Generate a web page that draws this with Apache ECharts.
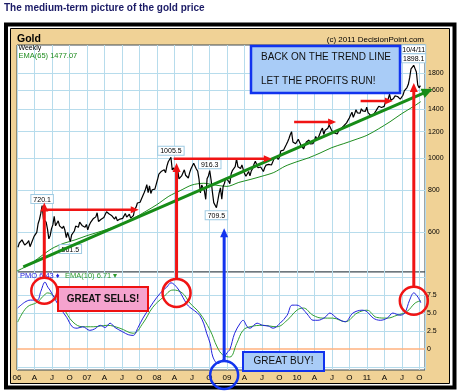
<!DOCTYPE html>
<html><head><meta charset="utf-8">
<script src="https://cdn.jsdelivr.net/npm/echarts@6/dist/echarts.min.js"></script>
<style>html,body{margin:0;padding:0;background:#fff}#c{width:460px;height:392px}</style>
</head><body><div id="c"></div>
<script>
// ---------- DATA (weekly closes) ----------
const firstWeek = [2006, 0, 6];
const gold2006 = [540,556,561,568, 569,548,553,557, 565,542,555,560,582, 590,598,635,654, 682,720.1,655,653, 642,612,572,585,614, 630,668,626,634, 648,626,620,615, 625,607,577,598,599, 561.5,588,593,604, 625,628,620,642, 647,626,621,620,632];
const gold2007 = [609,627,640,648, 657,666,666,685, 645,651,655,663,663, 677,690,682,679, 685,671,662,656, 667,649,656,656,650, 659,667,682,665, 673,678,660,668,672, 702,712,733,743, 737,754,763,787, 806,832,787,825,783, 803,795,807,834];
const gold2008 = [862,895,883,913, 911,922,904,946,975, 972,1005.5,921,934, 913,925,927,866, 856,884,880,922,888, 883,871,904,929, 932,964,957,927, 914,864,786,830,829, 797,752,866,884, 916.3,860,790,735,725, 709.5,745,785,814, 752,822,840,870];
const gold2009 = [878,853,838,897,919, 912,942,995,942, 940,930,954,924, 898,882,870,911, 884,915,930,958,978, 957,935,933,940, 931,911,937,952,954, 957,946,953,955, 996,1006,1010,990, 1004,1051,1051,1056,1046, 1096,1118,1143,1175, 1200,1118,1110,1104];
const gold2010 = [1096,1138,1130,1092,1083, 1066,1092,1117,1118, 1132,1102,1106,1105, 1126,1161,1136,1153,1180, 1209,1230,1177,1212, 1218,1228,1256,1256, 1208,1210,1189,1188,1181, 1204,1216,1228,1237, 1250,1244,1275,1297, 1318,1346,1372,1325,1357, 1397,1367,1352,1363, 1406,1385,1378,1380,1421];
const gold2011 = [1369,1360,1342,1340, 1349,1361,1388,1409, 1430,1421,1418,1431, 1429,1474,1486,1504,1556, 1491,1493,1510,1536, 1542,1530,1539,1502, 1486,1543,1591,1601,1628, 1664,1743,1852,1828, 1898.1,1855,1813,1657,1624, 1650];

const emaDates  = [2006.00,2006.17,2006.33,2006.50,2006.67,2006.83,2007.00,2007.17,2007.33,2007.50,2007.67,2007.83,2008.00,2008.17,2008.33,2008.50,2008.67,2008.83,2009.00,2009.17,2009.33,2009.50,2009.67,2009.83,2010.00,2010.17,2010.33,2010.50,2010.67,2010.83,2011.00,2011.17,2011.33,2011.50,2011.67,2011.77];
const emaValues = [458,478,505,535,555,568,585,600,615,635,660,690,725,768,798,830,840,830,822,845,862,882,905,945,975,1002,1035,1075,1105,1135,1170,1225,1285,1360,1430,1477.07];

const pmoDates  = [2006.01,2006.11,2006.19,2006.29,2006.34,2006.40,2006.44,2006.47,2006.54,2006.61,2006.71,2006.79,2006.86,2006.94,2007.04,2007.11,2007.19,2007.26,2007.33,2007.40,2007.51,2007.59,2007.66,2007.73,2007.80,2007.90,2008.00,2008.09,2008.14,2008.20,2008.29,2008.37,2008.43,2008.47,2008.54,2008.61,2008.67,2008.71,2008.76,2008.80,2008.87,2008.94,2009.00,2009.04,2009.11,2009.19,2009.23,2009.29,2009.33,2009.43,2009.51,2009.59,2009.66,2009.76,2009.86,2009.93,2010.00,2010.07,2010.16,2010.23,2010.30,2010.40,2010.47,2010.57,2010.69,2010.80,2010.93,2011.00,2011.09,2011.19,2011.29,2011.37,2011.47,2011.54,2011.61,2011.67,2011.73,2011.77];
const pmoValues = [5.7,6.5,6.8,6.8,8.0,9.3,8.6,8.2,7.0,5.8,4.4,3.1,2.9,3.1,2.6,2.8,3.3,3.0,3.6,3.0,2.4,2.0,1.9,3.0,4.3,5.8,7.2,8.2,8.6,9.2,8.5,7.2,6.2,5.8,5.3,4.7,3.5,2.2,0.8,-1.1,-2.0,-1.5,-0.5,-0.1,2.2,3.6,4.0,3.1,2.9,3.6,3.3,3.2,2.9,3.6,4.7,6.1,6.1,5.7,4.7,4.0,4.0,4.4,5.0,4.3,3.8,5.0,5.4,5.2,4.3,4.0,4.3,5.0,4.7,5.0,6.8,7.8,7.2,6.43];

const sigDates  = [2006.01,2006.14,2006.29,2006.37,2006.44,2006.54,2006.66,2006.80,2006.94,2007.09,2007.29,2007.47,2007.66,2007.80,2007.94,2008.09,2008.23,2008.36,2008.47,2008.61,2008.76,2008.86,2008.94,2009.04,2009.14,2009.23,2009.33,2009.51,2009.71,2009.86,2010.00,2010.09,2010.23,2010.37,2010.51,2010.69,2010.86,2011.00,2011.14,2011.29,2011.43,2011.57,2011.69,2011.77];
const sigValues = [3.75,5.8,6.5,7.3,7.8,7.2,5.7,3.75,3.1,3.1,3.3,2.9,2.2,3.6,5.8,7.2,8.2,7.8,6.4,5.0,2.6,0.3,-0.8,-1.1,0.8,2.6,3.1,3.3,3.1,4.0,5.4,5.7,4.7,4.3,4.3,3.8,5.0,5.4,4.4,4.3,4.7,5.2,6.4,6.71];

const priceTicks = [600,800,1000,1200,1400,1600,1800];
const pmoTicks = [0,2.5,5,7.5];
const pmoGridLines = [-2.5,2.5,5,7.5,10];
const quarterLabels = ['A','J','O'];
const trendX = [2006.09, 2011.94];
const trendY = [471, 1611];
const peakLabels = [720.1, 1005.5, 916.3];
const lowLabels = [561.5, 709.5];
const lastLabel = ['10/4/11', 1898.1];

// ---------- BUILD ----------
const FF = "'Liberation Sans', Arial, sans-serif";
const prices = [].concat(gold2006, gold2007, gold2008, gold2009, gold2010, gold2011);
function fracYear(ms){ const d=new Date(ms); const y=d.getUTCFullYear(); const s=Date.UTC(y,0,1), e=Date.UTC(y+1,0,1); return y+(ms-s)/(e-s); }
const t0 = Date.UTC(firstWeek[0], firstWeek[1], firstWeek[2]);
const dates = prices.map((p,i)=>fracYear(t0 + i*7*864e5));
const pt = v => { const i = prices.indexOf(v); return [dates[i], prices[i]]; };

const XMIN = 2006, XMAX = 2011.83;
const splitCol = '#B7DCEC';
const mpLabel = {show:true, color:'#000', fontSize:7, fontFamily:FF, backgroundColor:'#fff', borderColor:'#9FCBE3', borderWidth:1, padding:[1,2,0,2]};

const chart = echarts.init(document.getElementById('c'), null, {renderer:'canvas'});
const option = {
  animation:false,
  backgroundColor:'#fff',
  grid:[
    {left:17, right:35, top:45, height:227, show:true, backgroundColor:'#fff', borderColor:'#3E4A52', borderWidth:1},
    {left:17, right:35, top:272, height:98, show:true, backgroundColor:'#fff', borderColor:'#3E4A52', borderWidth:1}
  ],
  xAxis:[
    {type:'value', gridIndex:0, min:XMIN, max:XMAX, interval:0.25, axisLine:{show:false}, axisTick:{show:false}, axisLabel:{show:false}, splitLine:{show:true, lineStyle:{color:splitCol, width:1}}},
    {type:'value', gridIndex:1, min:XMIN, max:XMAX, interval:0.25, axisLine:{show:false}, axisTick:{show:false},
     axisLabel:{show:true, margin:4, color:'#000', fontSize:8, fontFamily:FF, showMaxLabel:false,
       formatter:function(v){ const q=Math.round((v-2006)*4); const y=2006+Math.floor(q/4); const m=((q%4)+4)%4; return m===0 ? String(y).slice(2) : quarterLabels[m-1]; }},
     splitLine:{show:true, lineStyle:{color:splitCol, width:1}}}
  ],
  yAxis:[
    {type:'log', gridIndex:0, min:455, max:2184, show:false, splitLine:{show:false}},
    {type:'value', gridIndex:1, min:-2.9, max:10.7, show:false, splitLine:{show:false}}
  ],
  series:[
    {name:'EMA65', type:'line', xAxisIndex:0, yAxisIndex:0, data:emaDates.map((d,i)=>[d,emaValues[i]]), showSymbol:false, smooth:0.3,
     lineStyle:{color:'#1E8C1E', width:1}, z:3,
     markLine:{silent:true, z:1, symbol:['none','none'], lineStyle:{color:splitCol, width:1, type:'solid'},
       label:{show:true, position:'end', distance:3, color:'#000', fontSize:7, fontFamily:FF, formatter:p=>String(p.value)},
       emphasis:{disabled:true},
       data:priceTicks.map(v=>({yAxis:v}))}},
    {name:'Gold', type:'line', xAxisIndex:0, yAxisIndex:0, data:dates.map((d,i)=>[d,prices[i]]), showSymbol:false,
     lineStyle:{color:'#000', width:1.2}, z:4,
     markPoint:{silent:true, symbol:'rect', symbolSize:1, itemStyle:{color:'rgba(0,0,0,0)'},
       data:[].concat(
         peakLabels.map(v=>({coord:pt(v), label:Object.assign({}, mpLabel, {position:'top', distance:2, formatter:String(v)})})),
         lowLabels.map(v=>({coord:pt(v), label:Object.assign({}, mpLabel, {position:'bottom', distance:3, formatter:String(v)})})),
         [{coord:pt(lastLabel[1]), label:{show:true, position:'top', distance:2, formatter:'{a|'+lastLabel[0]+'}\n{a|'+lastLabel[1]+'}',
            rich:{a:{color:'#000', fontSize:7, fontFamily:FF, backgroundColor:'#fff', borderColor:'#9FCBE3', borderWidth:1, padding:[1,2,0,2], width:19, align:'center', lineHeight:9}}}}]
       )}},
    {name:'Trend', type:'line', xAxisIndex:0, yAxisIndex:0, data:trendX.map((x,i)=>[x,trendY[i]]), showSymbol:false, clip:false,
     lineStyle:{color:'#178C17', width:3}, z:5},
    {name:'PMO', type:'line', xAxisIndex:1, yAxisIndex:1, data:pmoDates.map((d,i)=>[d,pmoValues[i]]), showSymbol:false, smooth:0.35,
     lineStyle:{color:'#2222DD', width:1}, z:4},
    {name:'EMA10', type:'line', xAxisIndex:1, yAxisIndex:1, data:sigDates.map((d,i)=>[d,sigValues[i]]), showSymbol:false, smooth:0.4,
     lineStyle:{color:'#33A033', width:1}, z:3,
     markLine:{silent:true, z:1, symbol:['none','none'], lineStyle:{color:splitCol, width:1, type:'solid'},
       label:{show:true, position:'end', distance:2, color:'#000', fontSize:7, fontFamily:FF, formatter:p=>(p.value===0?'0':Number(p.value).toFixed(1))},
       emphasis:{disabled:true},
       data:pmoGridLines.map(v=>({yAxis:v, label:{show:pmoTicks.indexOf(v)>=0}})).concat([{yAxis:0, lineStyle:{color:'#FFB27F', width:1.5}}])}}
  ]
};
chart.setOption(option);

// ---------- ANNOTATIONS ----------
const P0 = (x,y)=>chart.convertToPixel({gridIndex:0},[x,y]);
const P1 = (x,y)=>chart.convertToPixel({gridIndex:1},[x,y]);
const RED='#F01414', BLUE='#1234EE';
const G = [];
function head(tip, from, color, hl, hw){
  const dx=tip[0]-from[0], dy=tip[1]-from[1], L=Math.hypot(dx,dy), ux=dx/L, uy=dy/L;
  const bx=tip[0]-ux*hl, by=tip[1]-uy*hl;
  G.push({type:'polygon', z:101, shape:{points:[[tip[0],tip[1]],[bx-uy*hw/2,by+ux*hw/2],[bx+uy*hw/2,by-ux*hw/2]]}, style:{fill:color}});
  return [bx+ux, by+uy];
}
function arrow(p1, p2, color, w, hl, hw){
  const b = head(p2, p1, color, hl, hw);
  G.push({type:'line', z:100, shape:{x1:p1[0],y1:p1[1],x2:b[0],y2:b[1]}, style:{stroke:color, lineWidth:w}});
}
// frame
G.push({type:'rect', z:-2, shape:{x:6, y:24.5, width:448.5, height:363}, style:{fill:'#fff', stroke:'#000', lineWidth:4}});
G.push({type:'rect', z:-1, shape:{x:10.5, y:28.5, width:439, height:355}, style:{fill:'#F0D296', stroke:'#000', lineWidth:1}});
// texts
G.push({type:'text', z:10, x:4, y:8, style:{text:'The medium-term picture of the gold price', fill:'#1B1B66', font:'bold 10px '+FF, textVerticalAlign:'middle'}});
G.push({type:'text', z:10, x:17, y:39.5, style:{text:'Gold', fill:'#000', font:'bold 10.5px '+FF, textVerticalAlign:'middle'}});
G.push({type:'text', z:10, x:424, y:40, style:{text:'(c) 2011 DecisionPoint.com', fill:'#000', font:'8px '+FF, textAlign:'right', textVerticalAlign:'middle'}});
G.push({type:'text', z:10, x:18.5, y:48.5, style:{text:'Weekly', fill:'#000', font:'7px '+FF, textVerticalAlign:'middle'}});
G.push({type:'text', z:10, x:18.5, y:56, style:{text:'EMA(65) '+emaValues[emaValues.length-1].toFixed(2), fill:'#1E8C1E', font:'7.5px '+FF, textVerticalAlign:'middle'}});
G.push({type:'text', z:10, x:20, y:276, style:{text:'PMO '+pmoValues[pmoValues.length-1].toFixed(2)+' \u2666', fill:'#2222DD', font:'7.5px '+FF, textVerticalAlign:'middle'}});
G.push({type:'text', z:10, x:65, y:276, style:{text:'EMA(10) '+sigValues[sigValues.length-1].toFixed(2)+' \u25BE', fill:'#2E9B2E', font:'7.5px '+FF, textVerticalAlign:'middle'}});
// trend arrow head
head(P0(trendX[1],trendY[1]), P0(trendX[0],trendY[0]), '#178C17', 11, 10);
// circles and vertical arrows
const circles = [
  {t:2006.39, v:8.1, r:13, c:RED, tip:735},
  {t:2008.28, v:7.8, r:14, c:RED, tip:966},
  {t:2008.96, v:-3.6, r:14, c:BLUE, tip:616},
  {t:2011.67, v:6.7, r:14, c:RED, tip:1679}
];
circles.forEach(o=>{
  const c = P1(o.t, o.v);
  G.push({type:'circle', z:102, shape:{cx:c[0], cy:c[1], r:o.r}, style:{fill:'none', stroke:o.c, lineWidth:2.5}});
  const top = [c[0], c[1]-o.r];
  const tip = P0(o.t, o.tip);
  arrow(top, [c[0], tip[1]], o.c, 3, 9, 8);
});
// horizontal red arrows
[[2006.40,2007.74,700],[2008.24,2009.64,995],[2009.96,2010.56,1283],[2010.91,2011.37,1483]].forEach(a=>{
  arrow(P0(a[0],a[2]), P0(a[1],a[2]), RED, 2.5, 8, 7);
});
// boxes
G.push({type:'rect', z:103, shape:{x:58, y:287, width:90, height:24}, style:{fill:'#F5A3CE', stroke:'#EE1111', lineWidth:2}});
G.push({type:'text', z:104, x:103, y:299.5, style:{text:'GREAT SELLS!', fill:'#111', font:'bold 10px '+FF, textAlign:'center', textVerticalAlign:'middle'}});
G.push({type:'rect', z:103, shape:{x:243, y:352, width:81, height:19}, style:{fill:'#A9CCF7', stroke:'#1133EE', lineWidth:2}});
G.push({type:'text', z:104, x:283.5, y:361.5, style:{text:'GREAT BUY!', fill:'#111', font:'10px '+FF, textAlign:'center', textVerticalAlign:'middle'}});
G.push({type:'rect', z:103, shape:{x:251, y:46, width:149, height:47}, style:{fill:'#A9CCF7', stroke:'#1133EE', lineWidth:2.5}});
G.push({type:'text', z:104, x:261, y:57, style:{text:'BACK ON THE TREND LINE', fill:'#111', font:'10px '+FF, textVerticalAlign:'middle'}});
G.push({type:'text', z:104, x:261, y:81, style:{text:'LET THE PROFITS RUN!', fill:'#111', font:'10px '+FF, textVerticalAlign:'middle'}});

chart.setOption({graphic:{elements:G}});
</script>
</body></html>
